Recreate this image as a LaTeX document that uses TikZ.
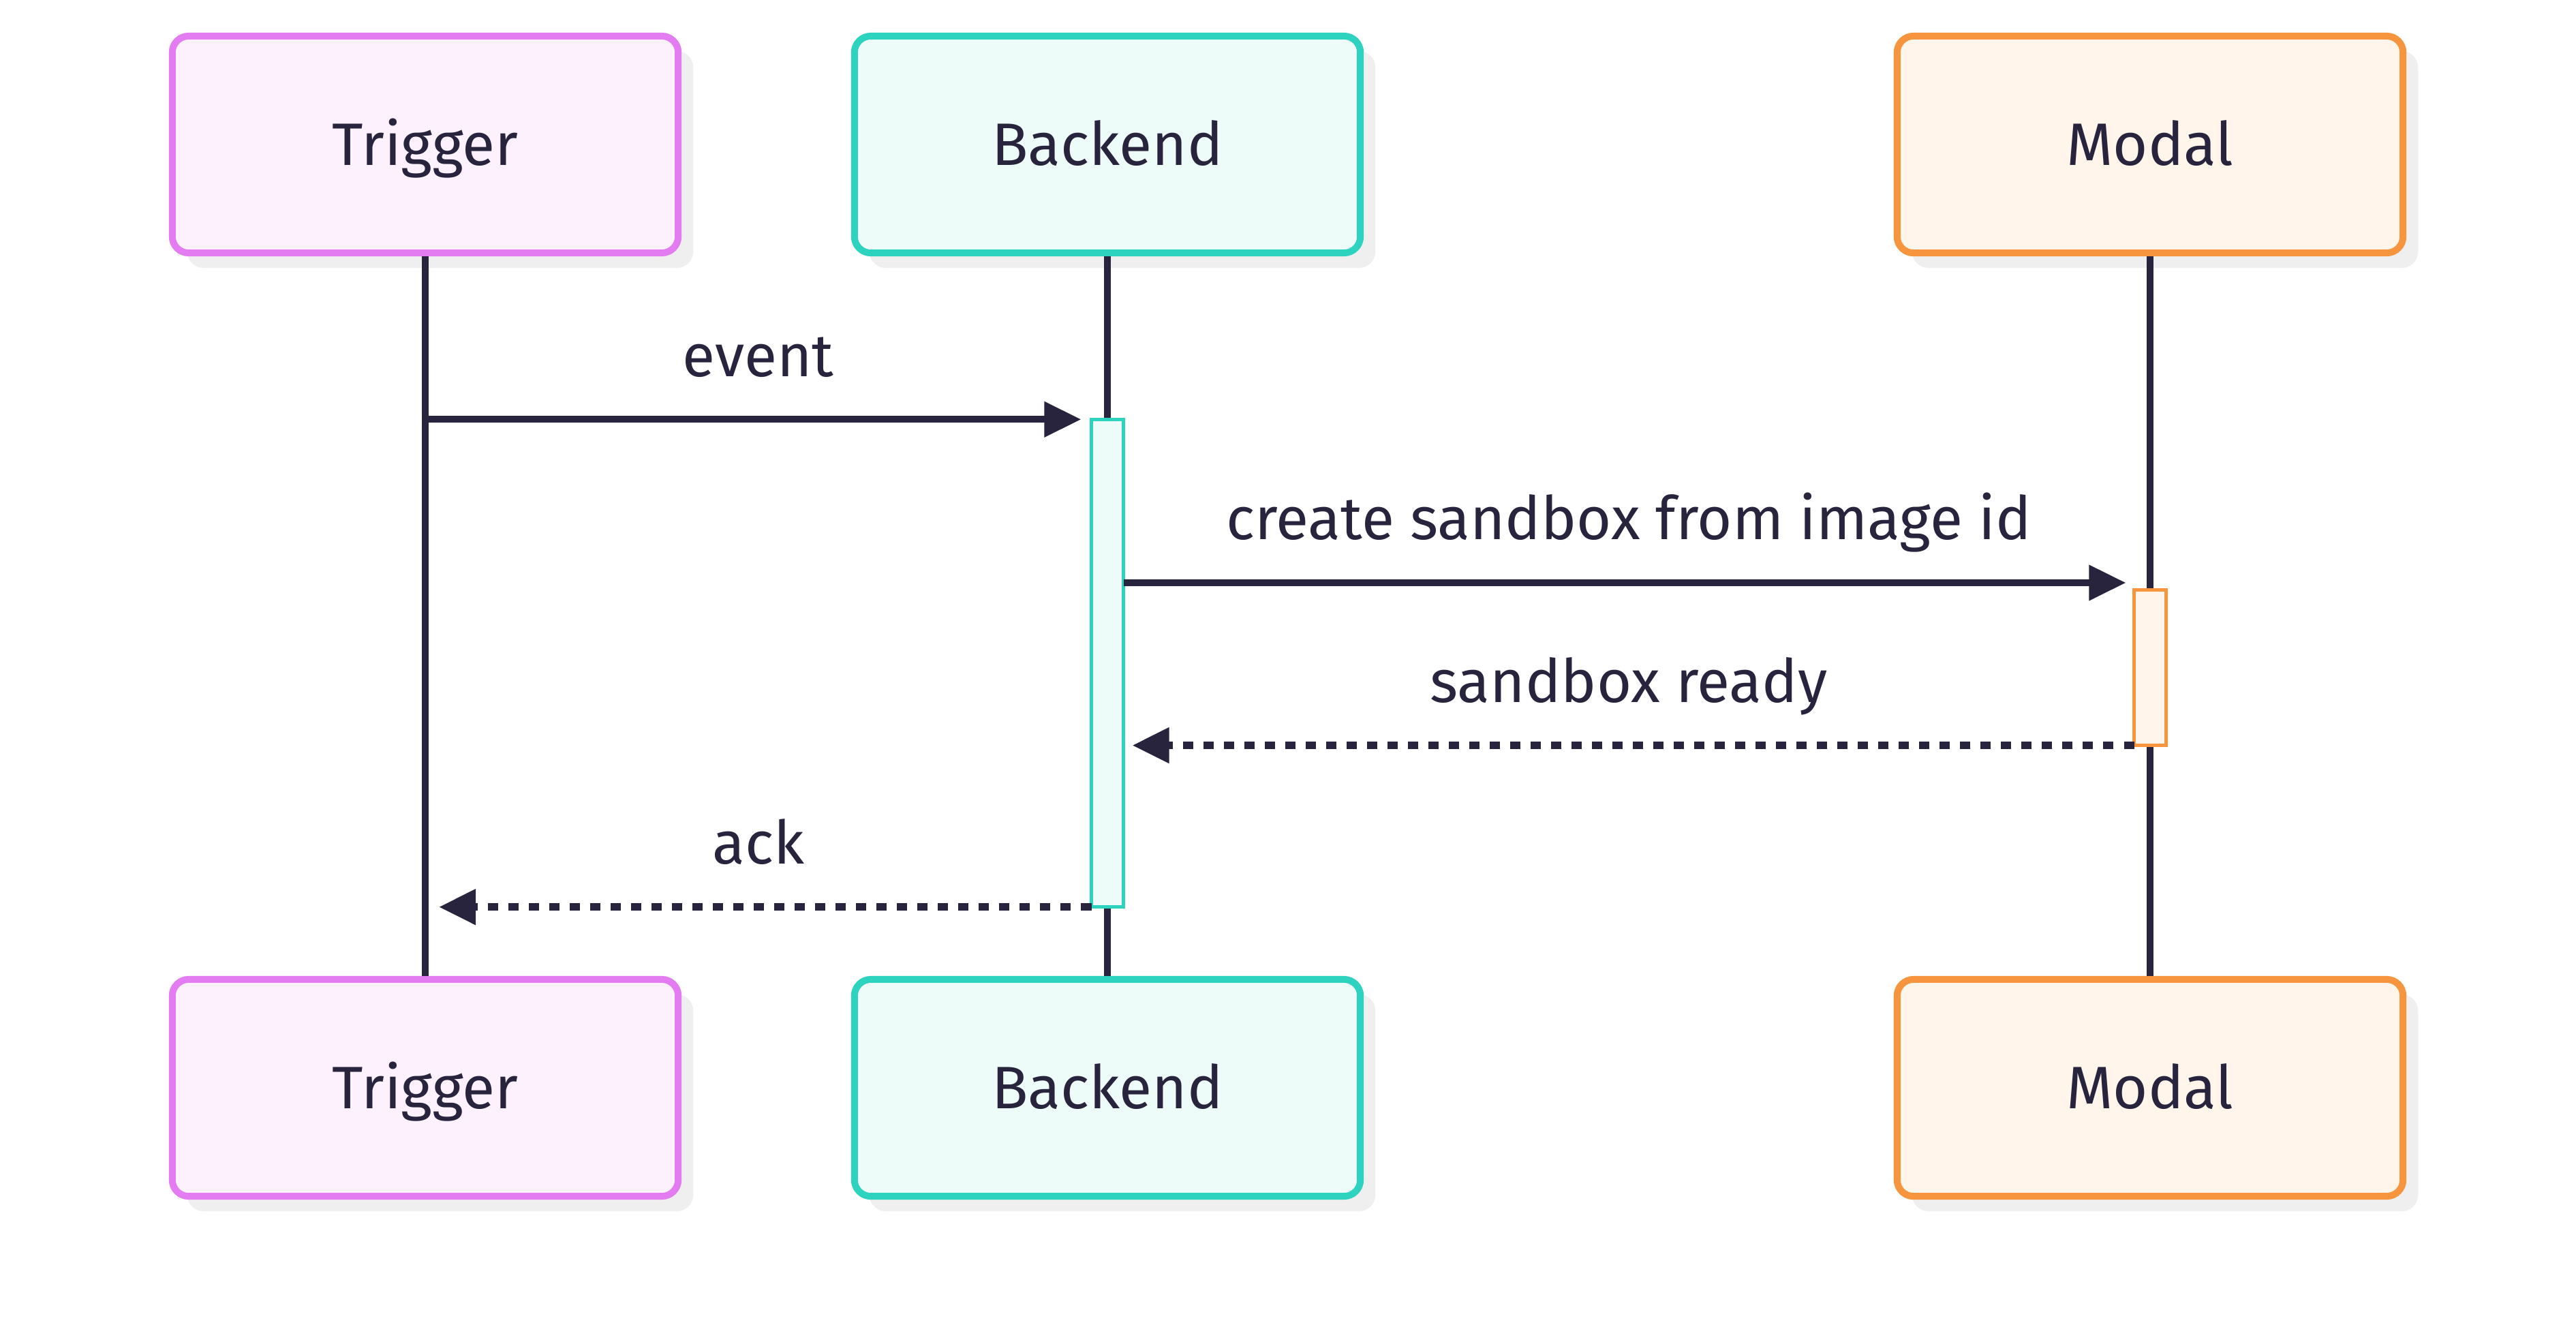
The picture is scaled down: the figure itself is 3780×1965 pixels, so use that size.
\documentclass[tikz,border=0pt]{standalone}
\usepackage{fontspec}
\setmainfont{Fira Sans}
\usetikzlibrary{positioning,shadows,arrows.meta}
\definecolor{inkdark}{HTML}{28243D}
\definecolor{trigline}{HTML}{E47CF1}
\definecolor{trigfill}{HTML}{FDF1FD}
\definecolor{backline}{HTML}{2ED3BF}
\definecolor{backfill}{HTML}{EEFCF9}
\definecolor{modline}{HTML}{F7953F}
\definecolor{modfill}{HTML}{FFF5EA}
\definecolor{shadowgrey}{HTML}{EFEFEF}

\begin{document}
\begin{tikzpicture}[x=0.01cm, y=-0.01cm,
        actor/.style={rectangle, rounded corners=0.24cm, line width=0.1cm, minimum width=7.42cm, minimum height=3.18cm, text height=0.7cm, text depth=0.1cm, text=inkdark, font=\fontsize{25}{30}\selectfont, drop shadow={shadow xshift=0.22cm, shadow yshift=-0.22cm, fill=shadowgrey, opacity=1}},
        trigbox/.style={actor, draw=trigline, fill=trigfill},
        backbox/.style={actor, draw=backline, fill=backfill},
        modbox/.style={actor, draw=modline, fill=modfill},
        activebar/.style={rectangle, line width=0.05cm, minimum width=0.47cm, inner sep=0pt, outer sep=0pt},
        lifeline/.style={draw=inkdark, line width=0.1cm},
        msg/.style={draw=inkdark, line width=0.1cm, -{Triangle[length=0.54cm, width=0.5cm]}},
        reply/.style={msg, line width=0.11cm, dash pattern=on 0.15cm off 0.15cm},
        msglabel/.style={midway, anchor=base, yshift=0.63cm, text=inkdark, font=\fontsize{25}{30}\selectfont},
]
        \useasboundingbox[fill=white] (0,0) rectangle (3780,1965);

        % participants
        \node[trigbox] (trigTop) at (624,212) {Trigger};
        \node[backbox] (backTop) at (1625,212) {Backend};
        \node[modbox] (modTop) at (3155,212) {Modal};
        \node[trigbox] (trigBot) at (624,1596) {Trigger};
        \node[backbox] (backBot) at (1625,1596) {Backend};
        \node[modbox] (modBot) at (3155,1596) {Modal};

        \draw[lifeline] (trigTop.south) -- (trigBot.north);
        \draw[lifeline] (backTop.south) -- (backBot.north);
        \draw[lifeline] (modTop.south) -- (modBot.north);

        % activations
        \node[activebar, draw=backline, fill=backfill, minimum height=7.15cm] (actB) at (1625,973) {};
        \node[activebar, draw=modline, fill=modfill, minimum height=2.28cm] (actM) at (3155,979.5) {};

        % messages
        \coordinate (create) at (0,855);
        \draw[msg, shorten >=0.15cm] (trigTop.south |- actB.north) -- (actB.north west) node[msglabel] {event};
        \draw[msg, shorten >=0.12cm] (actB.east |- create) -- (actM.west |- create) node[msglabel] {create sandbox from image id};
        \draw[reply, shorten >=0.13cm] (actM.south west) -- (actB.east |- actM.south) node[msglabel] {sandbox ready};
        \draw[reply, shorten >=0.2cm] (actB.south west) -- (trigTop.south |- actB.south) node[msglabel] {ack};
\end{tikzpicture}
\end{document}
